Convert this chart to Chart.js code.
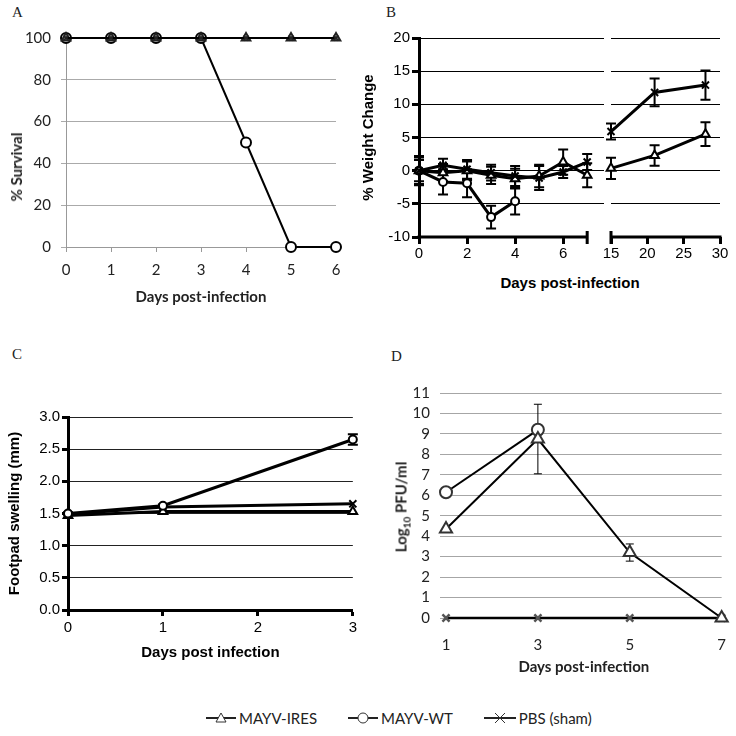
<!DOCTYPE html>
<html>
<head>
<meta charset="utf-8">
<script src="https://cdn.jsdelivr.net/npm/chart.js@4.4.1/dist/chart.umd.min.js"></script>
<style>
  body { margin: 0; background: #fff; }
  #page { position: relative; width: 736px; height: 736px; overflow: hidden; background: #fff; }
  .panel { position: absolute; }
  .letter { position: absolute; font-family: "Liberation Serif", serif; font-size: 15px; color: #222; }
  .txt { position: absolute; white-space: nowrap; transform: translate(-50%, -50%); }
  .rot { transform: translate(-50%, -50%) rotate(-90deg); }
  #legend { position: absolute; left: 205px; top: 709px; display: flex; align-items: center;
            font-family: Lato, "Open Sans", sans-serif; font-size: 15px; color: #222; }
  #legend span { display: inline-flex; align-items: center; margin-right: 30px; }
  #legend svg { margin-right: 2px; }
</style>
</head>
<body>
<div id="page">
  <div class="letter" style="left:12px;top:4px">A</div>
  <div class="letter" style="left:386px;top:4px">B</div>
  <div class="letter" style="left:12px;top:346px">C</div>
  <div class="letter" style="left:391px;top:348px">D</div>

  <div class="panel" style="left:0;top:0;width:360px;height:310px"><canvas id="chartA"></canvas></div>
  <div class="panel" style="left:360px;top:0;width:251px;height:260px"><canvas id="chartB1"></canvas></div>
  <div class="panel" style="left:591px;top:0;width:145px;height:260px"><canvas id="chartB2"></canvas></div>
  <div class="panel" style="left:0;top:360px;width:360px;height:310px"><canvas id="chartC"></canvas></div>
  <div class="panel" style="left:360px;top:360px;width:376px;height:330px"><canvas id="chartD"></canvas></div>

  <!-- titles that chart.js can't place the same way -->
  <div class="txt rot" style="left:16px;top:167px;font:bold 15px Lato, sans-serif;color:#222">% Survival</div>
  <div class="txt" style="left:570px;top:282px;font:bold 15px 'Liberation Sans', Arial, sans-serif">Days post-infection</div>
  <div class="txt rot" style="left:402px;top:507px;font:bold 15px Lato, sans-serif;color:#222">Log<sub style="font-size:10px">10</sub> PFU/ml</div>

  <div id="legend">
    <span><svg width="32" height="16"><line x1="1" y1="8" x2="31" y2="8" stroke="#222" stroke-width="2"/><polygon points="16,3 21,12 11,12" fill="#fff" stroke="#333" stroke-width="1"/></svg>MAYV-IRES</span>
    <span><svg width="32" height="16"><line x1="1" y1="8" x2="31" y2="8" stroke="#222" stroke-width="2"/><circle cx="16" cy="8" r="5" fill="#fff" stroke="#333" stroke-width="1"/></svg>MAYV-WT</span>
    <span><svg width="34" height="16"><line x1="1" y1="8" x2="33" y2="8" stroke="#222" stroke-width="2"/><path d="M12 3 L22 13 M22 3 L12 13" stroke="#333" stroke-width="1"/></svg>PBS (sham)</span>
  </div>
</div>

<script>
// ---- A: survival ----
const daysA = [0, 1, 2, 3, 4, 5, 6];
const survIres = [100, 100, 100, 100, 100, 100, 100];
const survWt = [100, 100, 100, 100, 50, 0, 0];
const survPbs = [100, 100, 100, 100, 100, 100, 100];

// ---- B: weight change, early days and late days ----
const daysB1 = [0, 1, 2, 3, 4, 5, 6, 7];
const daysB2 = [15, 21, 28];
const weightIres1 = [0, -0.3, 0, -0.7, -1.2, -0.8, 1.3, -0.7];
const errIres1 = [2, 1.3, 1.4, 1.3, 1.5, 1.7, 1.9, 1.8];
const weightIres2 = [0.35, 2.3, 5.5];
const errIres2 = [1.6, 1.55, 1.8];
const weightWt1 = [0, -1.7, -1.9, -7.0, -4.6];
const errWt1 = [1.6, 1.9, 2.1, 1.7, 2.0];
const weightPbs1 = [0, 0.8, 0.2, -0.3, -0.8, -1.1, -0.2, 1.3];
const errPbs1 = [2.2, 1.0, 1.4, 1.2, 1.5, 1.8, 0.9, 1.2];
const weightPbs2 = [5.9, 11.8, 12.9];
const errPbs2 = [1.2, 2.1, 2.2];

// ---- C: footpad swelling ----
const daysC = [0, 1, 3];
const swellIres = [1.47, 1.53, 1.53];
const swellWt = [1.5, 1.62, 2.65];
const errWt = [0.02, 0.02, 0.08];
const swellPbs = [1.49, 1.6, 1.65];

// ---- D: viremia ----
const daysD = [1, 3, 5, 7];
const titerIres = [4.35, 8.75, 3.2, 0];
const errTiterIres = [0, 1.7, 0.42, 0];
const titerWt = [6.15, 9.2];
const errTiterWt = [0, 0.25];
const titerPbs = [0, 0, 0, 0];

const tickA = [0, 20, 40, 60, 80, 100];

const LATO = 'Lato, "Open Sans", sans-serif';
const ARIAL = '"Liberation Sans", Arial, sans-serif';

Chart.defaults.animation = false;
Chart.defaults.responsive = true;
Chart.defaults.maintainAspectRatio = false;
Chart.defaults.plugins.legend.display = false;
Chart.defaults.plugins.tooltip.enabled = false;

function pts(xs, ys) {
  return ys.map((y, i) => ({ x: xs[i], y: y }));
}

// draws vertical error bars under the markers
const errorBars = {
  id: 'errorBars',
  beforeDatasetsDraw(chart) {
    const ctx = chart.ctx;
    const yScale = chart.scales.y;
    chart.data.datasets.forEach((ds, i) => {
      if (!ds.errors) return;
      const meta = chart.getDatasetMeta(i);
      ctx.save();
      ctx.strokeStyle = '#000';
      ctx.lineWidth = ds.errorWidth || 1;
      meta.data.forEach((pt, j) => {
        const e = ds.errors[j];
        if (!e) return;
        const v = ds.data[j].y;
        const top = yScale.getPixelForValue(v + e);
        const bot = yScale.getPixelForValue(v - e);
        const cap = ds.capWidth || 4;
        ctx.beginPath();
        ctx.moveTo(pt.x, top); ctx.lineTo(pt.x, bot);
        ctx.moveTo(pt.x - cap, top); ctx.lineTo(pt.x + cap, top);
        ctx.moveTo(pt.x - cap, bot); ctx.lineTo(pt.x + cap, bot);
        ctx.stroke();
      });
      ctx.restore();
    });
  }
};

// x axis line of panel B only covers part of the range (broken axis)
const brokenAxis = {
  id: 'brokenAxis',
  afterDatasetsDraw(chart, args, opts) {
    const x = chart.scales.x, y = chart.scales.y;
    const ctx = chart.ctx;
    const y0 = y.getPixelForValue(y.min);
    const a = x.getPixelForValue(opts.from);
    const b = x.getPixelForValue(opts.to);
    const c = opts.capAtEnd ? b : a;
    ctx.save();
    ctx.strokeStyle = '#000';
    ctx.lineWidth = 3;
    ctx.beginPath();
    ctx.moveTo(a - 1.5, y0); ctx.lineTo(b + 1.5, y0);
    ctx.moveTo(c, y0 - 6); ctx.lineTo(c, y0 + 7);
    ctx.stroke();
    ctx.restore();
  }
};

// ===== A =====
new Chart(document.getElementById('chartA'), {
  type: 'line',
  data: {
    datasets: [
      { label: 'MAYV-WT', data: pts(daysA, survWt), borderColor: '#000', borderWidth: 2,
        pointStyle: 'circle', pointRadius: 5, pointBackgroundColor: '#fff', pointBorderColor: '#000', order: 3 },
      { label: 'MAYV-IRES', data: pts(daysA, survIres), borderColor: '#000', borderWidth: 2,
        pointStyle: 'triangle', pointRadius: 5, pointBackgroundColor: 'rgba(0,0,0,0)', pointBorderColor: '#222', order: 2 },
      { label: 'PBS (sham)', data: pts(daysA, survPbs), borderColor: '#000', borderWidth: 2,
        pointStyle: 'crossRot', pointRadius: 3.5, pointBorderColor: '#222', order: 1 }
    ]
  },
  options: {
    clip: false,
    layout: { padding: { top: 38, right: 24, left: 0, bottom: 0 } },
    scales: {
      x: {
        type: 'linear', min: 0, max: 6,
        ticks: { stepSize: 1, padding: 9, color: '#222', font: { family: LATO, size: 15 } },
        grid: { drawOnChartArea: false, tickLength: 5, color: '#999' },
        border: { color: '#999' },
        title: { display: true, text: 'Days post-infection', color: '#222',
                 font: { family: LATO, size: 15, weight: 'bold' }, padding: { top: 0, bottom: 4 } },
        afterFit: s => { s.height = 63; }
      },
      y: {
        min: 0, max: 100,
        afterBuildTicks: s => { s.ticks = tickA.map(v => ({ value: v })); },
        ticks: { padding: 10, autoSkip: false, color: '#222', font: { family: LATO, size: 15 } },
        grid: { color: '#aaa', tickLength: 5 },
        border: { color: '#999' },
        afterFit: s => { s.width = 66; }
      }
    }
  }
});

// ===== B (two pieces of one broken x axis) =====
const gridB = ctx => ctx.tick.value === -10 ? 'rgba(0,0,0,0)' : '#000';

new Chart(document.getElementById('chartB1'), {
  type: 'line',
  data: {
    datasets: [
      { label: 'MAYV-WT', data: pts(daysB1, weightWt1), errors: errWt1, errorWidth: 2, capWidth: 5,
        borderColor: '#000', borderWidth: 3, pointStyle: 'circle', pointRadius: 4, pointBorderWidth: 2,
        pointBackgroundColor: '#fff', pointBorderColor: '#000', order: 3 },
      { label: 'MAYV-IRES', data: pts(daysB1, weightIres1), errors: errIres1, errorWidth: 2, capWidth: 5,
        borderColor: '#000', borderWidth: 3, pointStyle: 'triangle', pointRadius: 5, pointBorderWidth: 2,
        pointBackgroundColor: '#fff', pointBorderColor: '#000', order: 2 },
      { label: 'PBS (sham)', data: pts(daysB1, weightPbs1), errors: errPbs1, errorWidth: 2, capWidth: 5,
        borderColor: '#000', borderWidth: 3, pointStyle: 'crossRot', pointRadius: 5, pointBorderWidth: 2,
        pointBorderColor: '#000', order: 1 }
    ]
  },
  options: {
    clip: false,
    layout: { padding: { top: 38, right: 0, left: 0, bottom: 0 } },
    plugins: { brokenAxis: { from: 0, to: 7, capAtEnd: true } },
    scales: {
      x: {
        type: 'linear', min: 0, max: 7.7,
        ticks: { stepSize: 2, includeBounds: false, padding: 1, color: '#000', font: { family: ARIAL, size: 15 } },
        grid: { drawOnChartArea: false, tickLength: 7, tickWidth: 3, tickColor: '#000' },
        border: { display: false },
        afterFit: s => { s.height = 23; }
      },
      y: {
        min: -10, max: 20,
        ticks: { stepSize: 5, padding: 2, autoSkip: false, color: '#000', font: { family: ARIAL, size: 15 } },
        grid: { color: gridB, tickColor: '#000', tickLength: 7, tickWidth: 3 },
        border: { color: '#000', width: 3 },
        title: { display: true, text: '% Weight Change', color: '#000',
                 font: { family: ARIAL, size: 15, weight: 'bold' }, padding: { top: 0, bottom: 0 } },
        afterFit: s => { s.width = 59; }
      }
    }
  },
  plugins: [errorBars, brokenAxis]
});

new Chart(document.getElementById('chartB2'), {
  type: 'line',
  data: {
    datasets: [
      { label: 'MAYV-IRES', data: pts(daysB2, weightIres2), errors: errIres2, errorWidth: 2, capWidth: 5,
        borderColor: '#000', borderWidth: 3, pointStyle: 'triangle', pointRadius: 5, pointBorderWidth: 2,
        pointBackgroundColor: '#fff', pointBorderColor: '#000', order: 2 },
      { label: 'PBS (sham)', data: pts(daysB2, weightPbs2), errors: errPbs2, errorWidth: 2, capWidth: 5,
        borderColor: '#000', borderWidth: 3, pointStyle: 'crossRot', pointRadius: 5, pointBorderWidth: 2,
        pointBorderColor: '#000', order: 1 }
    ]
  },
  options: {
    clip: false,
    layout: { padding: { top: 38, right: 16, left: 0, bottom: 0 } },
    plugins: { brokenAxis: { from: 15, to: 30, capAtEnd: false } },
    scales: {
      x: {
        type: 'linear', min: 15, max: 30,
        ticks: { stepSize: 5, padding: 1, color: '#000', font: { family: ARIAL, size: 15 } },
        grid: { drawOnChartArea: false, tickLength: 7, tickWidth: 3, tickColor: '#000' },
        border: { display: false },
        afterFit: s => { s.height = 23; }
      },
      y: {
        min: -10, max: 20,
        ticks: { stepSize: 5, display: false },
        grid: { color: gridB, drawTicks: false },
        border: { display: false },
        afterFit: s => { s.width = 20; }
      }
    }
  },
  plugins: [errorBars, brokenAxis]
});

// ===== C =====
new Chart(document.getElementById('chartC'), {
  type: 'line',
  data: {
    datasets: [
      { label: 'MAYV-WT', data: pts(daysC, swellWt), errors: errWt, errorWidth: 2, capWidth: 5,
        borderColor: '#000', borderWidth: 3, pointStyle: 'circle', pointRadius: 4, pointBorderWidth: 2,
        pointBackgroundColor: '#fff', pointBorderColor: '#000', order: 1 },
      { label: 'MAYV-IRES', data: pts(daysC, swellIres),
        borderColor: '#000', borderWidth: 3, pointStyle: 'triangle', pointRadius: 5, pointBorderWidth: 2,
        pointBackgroundColor: '#fff', pointBorderColor: '#000', order: 2 },
      { label: 'PBS (sham)', data: pts(daysC, swellPbs),
        borderColor: '#000', borderWidth: 3, pointStyle: 'crossRot', pointRadius: 5, pointBorderWidth: 2,
        pointBorderColor: '#000', order: 3 }
    ]
  },
  options: {
    clip: false,
    layout: { padding: { top: 57, right: 2, left: 0, bottom: 0 } },
    scales: {
      x: {
        type: 'linear', min: 0, max: 3,
        ticks: { stepSize: 1, padding: 3, color: '#000', font: { family: ARIAL, size: 15 } },
        grid: { drawOnChartArea: false, tickLength: 6, tickWidth: 3, tickColor: '#000' },
        border: { color: '#000', width: 3 },
        title: { display: true, text: 'Days post infection', color: '#000',
                 font: { family: ARIAL, size: 15, weight: 'bold' }, padding: { top: 0, bottom: 8 } },
        afterFit: s => { s.height = 60; }
      },
      y: {
        min: 0, max: 3,
        ticks: { stepSize: 0.5, padding: 2, autoSkip: false, color: '#000', font: { family: ARIAL, size: 15 },
                 callback: v => v.toFixed(1) },
        grid: { color: '#222', tickColor: '#000', tickLength: 6, tickWidth: 3 },
        border: { color: '#000', width: 3 },
        title: { display: true, text: 'Footpad swelling (mm)', color: '#000',
                 font: { family: ARIAL, size: 15, weight: 'bold' }, padding: { top: 6, bottom: 0 } },
        afterFit: s => { s.width = 68; }
      }
    }
  },
  plugins: [errorBars]
});

// ===== D =====
new Chart(document.getElementById('chartD'), {
  type: 'line',
  data: {
    datasets: [
      { label: 'MAYV-WT', data: pts(daysD, titerWt), errors: errTiterWt, capWidth: 4,
        borderColor: '#000', borderWidth: 2, pointStyle: 'circle', pointRadius: 6,
        pointBackgroundColor: '#fff', pointBorderColor: '#333', order: 2 },
      { label: 'MAYV-IRES', data: pts(daysD, titerIres), errors: errTiterIres, capWidth: 4,
        borderColor: '#000', borderWidth: 2, pointStyle: 'triangle', pointRadius: 7,
        pointBackgroundColor: '#fff', pointBorderColor: '#333', order: 1 },
      { label: 'PBS (sham)', data: pts(daysD, titerPbs),
        borderColor: '#000', borderWidth: 2.5, pointStyle: 'crossRot', pointRadius: 5,
        pointBorderColor: '#555', order: 3 }
    ]
  },
  options: {
    clip: false,
    layout: { padding: { top: 33, right: 11, left: 0, bottom: 0 } },
    scales: {
      x: {
        type: 'linear', min: 1, max: 7,
        ticks: { stepSize: 2, padding: 10, color: '#222', font: { family: LATO, size: 15 } },
        grid: { display: false },
        border: { display: false },
        title: { display: true, text: 'Days post-infection', color: '#222',
                 font: { family: LATO, size: 15, weight: 'bold' }, padding: { top: 0, bottom: 14 } },
        afterFit: s => { s.height = 72; }
      },
      y: {
        min: 0, max: 11,
        ticks: { stepSize: 1, padding: 10, autoSkip: false, color: '#222', font: { family: LATO, size: 15 } },
        grid: { color: '#a6a6a6', tickLength: 6 },
        border: { display: false },
        afterFit: s => { s.width = 86; }
      }
    }
  },
  plugins: [errorBars]
});
</script>
</body>
</html>
